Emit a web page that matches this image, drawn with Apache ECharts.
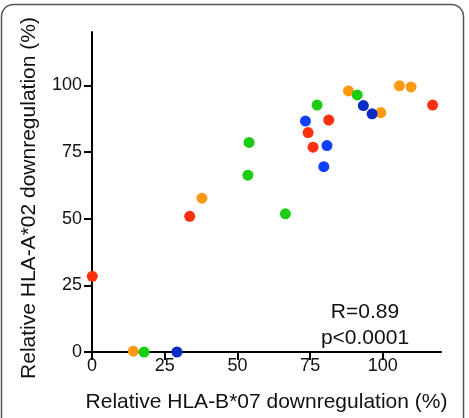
<!DOCTYPE html>
<html>
<head>
<meta charset="utf-8">
<script src="https://cdn.jsdelivr.net/npm/echarts@6/dist/echarts.min.js"></script>
<style>
  html, body { margin: 0; padding: 0; background: #fff; }
  #chart { width: 469px; height: 418px; }
</style>
</head>
<body>
<div id="chart"></div>
<script>
// [HLA-B*07 %, HLA-A*02 %] per colour group
const redPts = [[0.1, 28.4], [33.6, 50.9], [74.3, 82.3], [76.0, 76.8], [81.4, 87.0], [117.1, 92.6]]
const orangePts = [[14.2, 0.3], [37.8, 57.7], [88.2, 97.9], [99.3, 89.8], [105.7, 99.8], [109.7, 99.4]]
const greenPts = [[17.9, 0], [53.6, 66.3], [54.0, 78.6], [66.5, 51.8], [77.4, 92.6], [91.2, 96.4]]
const bluePts = [[73.4, 86.6], [79.7, 69.5], [80.8, 77.4]]
const darkBluePts = [[29.2, 0], [93.3, 92.4], [96.3, 89.3]]
const tickValues = [0, 25, 50, 75, 100]
const statLines = ['R=0.89', 'p<0.0001']

const font = '"Liberation Sans", Arial, sans-serif'
const chart = echarts.init(document.getElementById('chart'))

function axis(name, gap, labelMargin, namePad) {
  return {
    type: 'value',
    min: 0,
    max: 120,
    interval: 25,
    name: name,
    nameLocation: 'middle',
    nameGap: gap,
    nameTextStyle: { color: '#111', fontSize: 21, fontFamily: font, padding: namePad },
    axisLine: { show: true, lineStyle: { color: '#000', width: 2 } },
    axisTick: { show: true, length: 8, lineStyle: { color: '#000', width: 2 }, customValues: tickValues },
    axisLabel: { color: '#111', fontSize: 18, fontFamily: font, margin: labelMargin, customValues: tickValues },
    splitLine: { show: false }
  }
}

function dots(data, color) {
  return {
    type: 'scatter',
    data: data,
    symbolSize: 11,
    itemStyle: { color: color, opacity: 1 }
  }
}

chart.setOption({
  animation: false,
  grid: { left: 92, right: 28, top: 32, bottom: 64 },
  xAxis: axis('Relative HLA-B*07 downregulation (%)', 40, 5, 0),
  yAxis: axis('Relative HLA-A*02 downregulation (%)', 52, 10, [0, 12, 0, 0]),
  series: [
    dots(redPts, '#ff3010'),
    dots(orangePts, '#ff9a10'),
    dots(greenPts, '#1ccc10'),
    dots(bluePts, '#1040ff'),
    dots(darkBluePts, '#0a2cc4')
  ],
  graphic: [
    {
      type: 'rect',
      shape: { x: 1.5, y: 4.5, width: 462, height: 430, r: 12 },
      style: { fill: 'none', stroke: '#555', lineWidth: 1.5 },
      silent: true
    },
    {
      type: 'text',
      x: 365, y: 312,
      style: { text: statLines[0], fill: '#111', font: '21px ' + font, align: 'center', verticalAlign: 'middle' }
    },
    {
      type: 'text',
      x: 365, y: 338,
      style: { text: statLines[1], fill: '#111', font: '21px ' + font, align: 'center', verticalAlign: 'middle' }
    }
  ]
})
</script>
</body>
</html>
